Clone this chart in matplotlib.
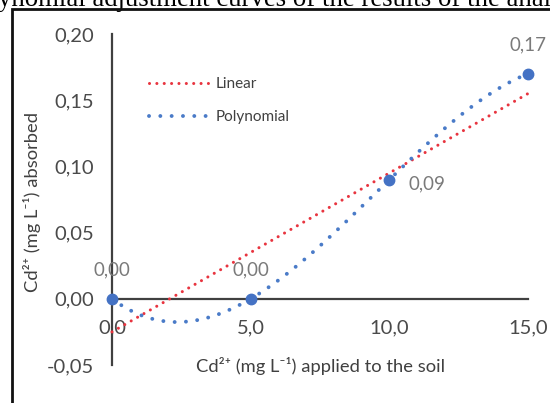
import numpy as np
import matplotlib
matplotlib.use("Agg")
import matplotlib.pyplot as plt
from matplotlib.patches import Rectangle

# ---- data ----
x_applied = [0.0, 5.0, 10.0, 15.0]
y_absorbed = [0.00, 0.00, 0.09, 0.17]
point_labels = ["0,00", "0,00", "0,09", "0,17"]
x_ticks = [0.0, 5.0, 10.0, 15.0]
x_tick_labels = ["0,0", "5,0", "10,0", "15,0"]
y_ticks = [-0.05, 0.00, 0.05, 0.10, 0.15, 0.20]
y_tick_labels = ["-0,05", "0,00", "0,05", "0,10", "0,15", "0,20"]
series_names = ["Linear", "Polynomial"]
title_fragment = "ynomial adjustment curves of the results of the anal"
xlabel = "Cd²⁺ (mg L⁻¹) applied to the soil"
ylabel = "Cd²⁺ (mg L⁻¹) absorbed"

plt.rcParams['font.family'] = ['Lato', 'DejaVu Sans']

W, H = 550, 403
fig = plt.figure(figsize=(W / 100, H / 100), dpi=100)

# axes placement (pixels)
ax_l, ax_r, ax_t, ax_b = 112, 528, 34, 365
axw, axh = ax_r - ax_l, ax_b - ax_t
ax = fig.add_axes([ax_l / W, (H - ax_b) / H, axw / W, axh / H])
ax.set_xlim(0, 15)
ax.set_ylim(-0.05, 0.20)
ax.patch.set_alpha(0)

# trendlines fitted from the data
xs = np.linspace(min(x_applied), max(x_applied), 300)
lin = np.polyfit(x_applied, y_absorbed, 1)
poly = np.polyfit(x_applied, y_absorbed, 3)
red = "#E8343F"
blue = "#4A7BC8"
l1, = ax.plot(xs, np.polyval(lin, xs), color=red, lw=2.2, linestyle=(0, (0.01, 2.4)),
              dash_capstyle='round', clip_on=False, zorder=3)
l2, = ax.plot(xs, np.polyval(poly, xs), color=blue, lw=2.8, linestyle=(0, (0.01, 2.9)),
              dash_capstyle='round', clip_on=False, zorder=3)
ax.plot(x_applied, y_absorbed, 'o', color="#4472C4", ms=7.5, clip_on=False, zorder=4)

# spines
for s in ['top', 'right']:
    ax.spines[s].set_visible(False)
ax.spines['left'].set_position(('data', 0))
ax.spines['bottom'].set_position(('data', 0))
for s in ['left', 'bottom']:
    ax.spines[s].set_color("#404040")
    ax.spines[s].set_linewidth(1.6)
    ax.spines[s].set_zorder(2)

ax.set_xticks(x_ticks)
ax.set_xticklabels(x_tick_labels)
ax.set_yticks(y_ticks)
ax.set_yticklabels(y_tick_labels)
ax.tick_params(axis='both', length=0, labelsize=14.5, labelcolor="#4a4a4a")
ax.tick_params(axis='x', pad=15)
ax.tick_params(axis='y', pad=13)

# data labels
offsets = [(0, 21), (0, 21), (27, -3), (0, 21)]
for xv, yv, lab, off in zip(x_applied, y_absorbed, point_labels, offsets):
    ax.annotate(lab, (xv, yv), xytext=off, textcoords='offset points',
                ha='center', va='center', fontsize=13.5, color="#7A7A7A", zorder=5)

# axis titles
fig.text((ax_l + ax_r) / 2 / W, 1 - 366 / H, xlabel, ha='center', va='center',
         fontsize=13.2, color="#404040")
fig.text(32 / W, 1 - 202 / H, ylabel, ha='center', va='center', rotation=90,
         fontsize=13.2, color="#404040")

# legend
ax.legend([l1, l2], series_names, loc='upper left',
          bbox_to_anchor=((149 - ax_l) / axw, 1 - (77 - ax_t) / axh),
          frameon=False, fontsize=11, handlelength=3.9, handletextpad=0.45,
          labelspacing=1.25, labelcolor="#404040", borderpad=0, borderaxespad=0)

# outer frame
fig.patches.append(Rectangle((12 / W, -0.1), 1.2, (H - 9) / H + 0.1, transform=fig.transFigure,
                             fill=False, lw=2, edgecolor="#111111", zorder=10))

# clipped title fragment at top (cut off in the reference too)
t = fig.text(-2 / W, 1 - 6 / H, title_fragment, ha='left', va='baseline',
             fontsize=16, family='Liberation Serif', color='black')
fig.canvas.draw()
r = fig.canvas.get_renderer()
wpx = t.get_window_extent(r).width
t.set_fontsize(16 * 554 / wpx)

fig.savefig("out.png", dpi=100)
